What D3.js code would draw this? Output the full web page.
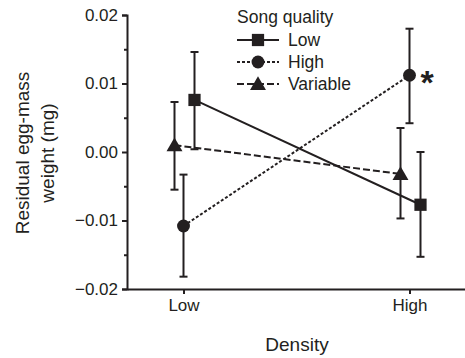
<!DOCTYPE html>
<html>
<head>
<meta charset="utf-8">
<script src="https://cdn.jsdelivr.net/npm/d3@7"></script>
<style>
  body { margin: 0; background: #fff; }
  svg { display: block; font-family: Arial, "Liberation Sans", Helvetica, sans-serif; }
</style>
</head>
<body>
<svg width="465" height="358"></svg>
<script>
// densities on the x axis, song quality groups as series
const densities = ['Low', 'High'];
const qualities = ['Low', 'High', 'Variable'];

// mean residual egg-mass weight (mg) per quality, by density
const meanLow = [0.0076, -0.0077];
const meanHigh = [-0.0108, 0.0112];
const meanVariable = [0.0010, -0.0032];

// error bar ends
const lowerLow = [0.0004, -0.0153];
const upperLow = [0.0146, 0.0000];
const lowerHigh = [-0.0182, 0.0042];
const upperHigh = [-0.0033, 0.0180];
const lowerVariable = [-0.0055, -0.0097];
const upperVariable = [0.0073, 0.0035];

const yTicks = [0.02, 0.01, 0, -0.01, -0.02];
const yMinorTicks = [0.015, 0.005, -0.005, -0.015];

const ink = '#231f20';

const svg = d3.select('svg');

const x = d3.scalePoint().domain(densities).range([127, 466]).padding(0.25);
const y = d3.scaleLinear().domain([-0.02, 0.02]).range([289, 15]);

// small sideways shift so the bars do not overlap
const shift = { Low: 11, High: 0, Variable: -9 };

const series = [
  { name: 'Low', mean: meanLow, lo: lowerLow, hi: upperLow, dash: null, shape: d3.symbolSquare, size: 150 },
  { name: 'High', mean: meanHigh, lo: lowerHigh, hi: upperHigh, dash: '3,2', shape: d3.symbolCircle, size: 130 },
  { name: 'Variable', mean: meanVariable, lo: lowerVariable, hi: upperVariable, dash: '7,3', shape: d3.symbolTriangle, size: 110 }
];

// axes
const fmt = d => d === 0 ? '0.00' : d3.format('.2f')(d).replace('-', '\u2212');

svg.append('g')
  .attr('transform', 'translate(127,0)')
  .call(d3.axisLeft(y).tickValues(yTicks).tickFormat(fmt).tickSize(5).tickPadding(4));

svg.append('g')
  .attr('transform', 'translate(127,0)')
  .call(d3.axisLeft(y).tickValues(yMinorTicks).tickFormat('').tickSize(3))
  .call(g => g.select('.domain').remove());

svg.append('g')
  .attr('transform', 'translate(0,289)')
  .call(d3.axisBottom(x).tickSize(5).tickSizeOuter(0).tickPadding(5));

svg.selectAll('.domain, .tick line')
  .attr('stroke', ink)
  .attr('stroke-width', 2);

svg.selectAll('.tick text')
  .attr('font-size', 17)
  .attr('fill', ink);

// axis titles
svg.append('text')
  .attr('x', 297)
  .attr('y', 351)
  .attr('text-anchor', 'middle')
  .attr('font-size', 19)
  .attr('fill', ink)
  .text('Density');

const yTitle = svg.append('text')
  .attr('transform', 'translate(29,153) rotate(-90)')
  .attr('text-anchor', 'middle')
  .attr('font-size', 19)
  .attr('fill', ink);
yTitle.append('tspan').attr('x', 0).attr('dy', 0).text('Residual egg-mass');
yTitle.append('tspan').attr('x', 0).attr('dy', 25).text('weight (mg)');

// series
const plot = svg.append('g');

series.forEach(s => {
  const px = (d, i) => x(densities[i]) + shift[s.name];

  plot.append('path')
    .datum(s.mean)
    .attr('fill', 'none')
    .attr('stroke', ink)
    .attr('stroke-width', 2)
    .attr('stroke-dasharray', s.dash)
    .attr('d', d3.line().x(px).y(d => y(d)));

  const bars = plot.append('g')
    .selectAll('g')
    .data(s.mean)
    .join('g');

  bars.append('line')
    .attr('x1', px).attr('x2', px)
    .attr('y1', (d, i) => y(s.lo[i]))
    .attr('y2', (d, i) => y(s.hi[i]))
    .attr('stroke', ink).attr('stroke-width', 2);

  [s.lo, s.hi].forEach(ends => {
    bars.append('line')
      .attr('x1', (d, i) => px(d, i) - 4)
      .attr('x2', (d, i) => px(d, i) + 4)
      .attr('y1', (d, i) => y(ends[i]))
      .attr('y2', (d, i) => y(ends[i]))
      .attr('stroke', ink).attr('stroke-width', 2);
  });

  bars.append('path')
    .attr('transform', (d, i) => `translate(${px(d, i)},${y(d) + (s.shape === d3.symbolTriangle ? 1.5 : 0)})`)
    .attr('d', d3.symbol().type(s.shape).size(s.size))
    .attr('fill', ink);
});

// significance mark
svg.append('text')
  .attr('x', x('High') + 11)
  .attr('y', y(meanHigh[1]) + 19)
  .attr('font-size', 34)
  .attr('font-weight', 'bold')
  .attr('fill', ink)
  .text('*');

// legend
const legend = svg.append('g').attr('transform', 'translate(237,0)');

legend.append('text')
  .attr('x', 0)
  .attr('y', 23)
  .attr('font-size', 17.5)
  .attr('fill', ink)
  .text('Song quality');

const rows = legend.selectAll('g.row')
  .data(series)
  .join('g')
  .attr('class', 'row')
  .attr('transform', (d, i) => `translate(0,${40 + i * 22})`);

rows.append('line')
  .attr('x1', 0).attr('x2', 42)
  .attr('stroke', ink).attr('stroke-width', 2)
  .attr('stroke-dasharray', d => d.dash);

rows.append('path')
  .attr('transform', d => `translate(21,${d.shape === d3.symbolTriangle ? 1.5 : 0})`)
  .attr('d', d => d3.symbol().type(d.shape).size(d.size)())
  .attr('fill', ink);

rows.append('text')
  .attr('x', 51)
  .attr('y', 6)
  .attr('font-size', 17.5)
  .attr('fill', ink)
  .text(d => d.name);
</script>
</body>
</html>
